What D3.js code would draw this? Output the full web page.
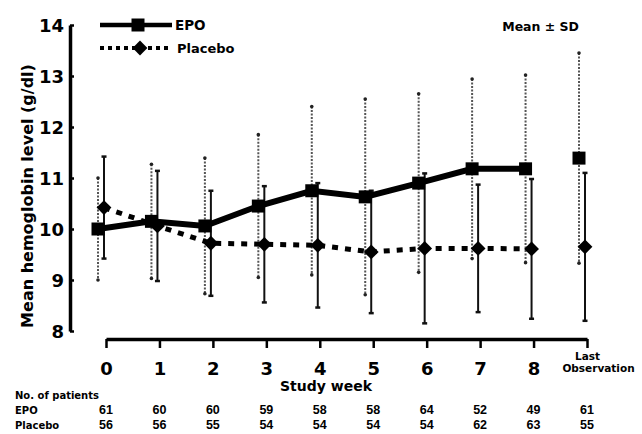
<!DOCTYPE html>
<html>
<head>
<meta charset="utf-8">
<script src="https://cdn.jsdelivr.net/npm/d3@7"></script>
<style>
  body { margin: 0; background: #fff; }
  svg { display: block; }
  text { fill: #000; }
</style>
</head>
<body>
<svg id="chart"></svg>
<script>
// study weeks on the x axis
const weeks = ["0", "1", "2", "3", "4", "5", "6", "7", "8", "Last"];

// mean and SD (g/dl)
const epoMean = [10.0, 10.15, 10.06, 10.45, 10.75, 10.63, 10.9, 11.18, 11.18, 11.39];
const epoSD = [1.0, 1.12, 1.33, 1.4, 1.65, 1.92, 1.75, 1.76, 1.84, 2.06];
const placeboMean = [10.42, 10.06, 9.72, 9.7, 9.68, 9.55, 9.62, 9.62, 9.61, 9.65];
const placeboSD = [1.0, 1.08, 1.03, 1.14, 1.22, 1.2, 1.47, 1.25, 1.37, 1.45];

// patients at each visit
const epoN = ["61", "60", "60", "59", "58", "58", "64", "52", "49", "61"];
const placeboN = ["56", "56", "55", "54", "54", "54", "54", "62", "63", "55"];

const yTicks = [8, 9, 10, 11, 12, 13, 14];

const w = 642;
const h = 434;
const bold = "'DejaVu Sans', sans-serif";
const arial = "'Liberation Sans', Arial, sans-serif";

const svg = d3.select("#chart").attr("width", w).attr("height", h);

const x = d3.scalePoint().domain(weeks).range([106, 587]);
const y = d3.scaleLinear().domain([8, 14]).range([331, 25]);

const epoDx = -8;
const plDx = -2;

const epo = weeks.map((wk, i) => ({wk: wk, m: epoMean[i], sd: epoSD[i]}));
const placebo = weeks.map((wk, i) => ({wk: wk, m: placeboMean[i], sd: placeboSD[i]}));

// y axis
const yAxis = svg.append("g").attr("transform", "translate(70,0)")
  .call(d3.axisLeft(y).tickValues(yTicks).tickFormat(d3.format("d"))
    .tickSize(-4).tickSizeOuter(0).tickPadding(6));
yAxis.select(".domain").attr("stroke", "#000").attr("stroke-width", 3.5);
yAxis.selectAll(".tick line").attr("stroke", "#000").attr("stroke-width", 2.5);
yAxis.selectAll(".tick text")
  .attr("font-family", bold).attr("font-weight", "bold").attr("font-size", 18)
  .attr("dy", "0.36em").attr("fill", "#000");

// x axis
const xAxis = svg.append("g").attr("transform", "translate(0,339)")
  .call(d3.axisBottom(x).tickSize(9).tickSizeOuter(0).tickPadding(14));
xAxis.select(".domain").attr("stroke", "#000").attr("stroke-width", 3.5);
xAxis.selectAll(".tick line").attr("stroke", "#000").attr("stroke-width", 2.5);
xAxis.selectAll(".tick text")
  .attr("font-family", bold).attr("font-weight", "bold").attr("font-size", 18)
  .attr("dy", "0.71em").attr("fill", "#000");

// "Last Observation" in two small lines
const lastTick = xAxis.selectAll(".tick").filter(d => d === "Last");
lastTick.select("text").remove();
const lastText = lastTick.append("text")
  .attr("font-family", bold).attr("font-weight", "bold").attr("font-size", 10.5)
  .attr("text-anchor", "middle").attr("fill", "#000");
lastText.append("tspan").attr("x", 0).attr("y", 21).text("Last");
lastText.append("tspan").attr("x", 11).attr("y", 33).text("Observation");

// axis titles
svg.append("text")
  .attr("transform", "translate(33,196) rotate(-90)")
  .attr("text-anchor", "middle")
  .attr("font-family", bold).attr("font-weight", "bold").attr("font-size", 16)
  .text("Mean hemoglobin level (g/dl)");

svg.append("text")
  .attr("x", 326).attr("y", 391)
  .attr("text-anchor", "middle")
  .attr("font-family", bold).attr("font-weight", "bold").attr("font-size", 14)
  .text("Study week");

// error bars - EPO dotted, placebo solid
const epoBars = svg.append("g");
epoBars.selectAll("line").data(epo).enter().append("line")
  .attr("x1", d => x(d.wk) + epoDx).attr("x2", d => x(d.wk) + epoDx)
  .attr("y1", d => y(d.m + d.sd)).attr("y2", d => y(d.m - d.sd))
  .attr("stroke", "#555").attr("stroke-width", 2).attr("stroke-dasharray", "2,1.5");
epoBars.selectAll("circle").data(epo.flatMap(d => [{wk: d.wk, v: d.m + d.sd}, {wk: d.wk, v: d.m - d.sd}]))
  .enter().append("circle")
  .attr("cx", d => x(d.wk) + epoDx).attr("cy", d => y(d.v)).attr("r", 1.8).attr("fill", "#222");

const plBars = svg.append("g");
plBars.selectAll("line.bar").data(placebo).enter().append("line").attr("class", "bar")
  .attr("x1", d => x(d.wk) + plDx).attr("x2", d => x(d.wk) + plDx)
  .attr("y1", d => y(d.m + d.sd)).attr("y2", d => y(d.m - d.sd))
  .attr("stroke", "#111").attr("stroke-width", 2);
plBars.selectAll("line.cap").data(placebo.flatMap(d => [{wk: d.wk, v: d.m + d.sd}, {wk: d.wk, v: d.m - d.sd}]))
  .enter().append("line").attr("class", "cap")
  .attr("x1", d => x(d.wk) + plDx - 2.5).attr("x2", d => x(d.wk) + plDx + 2.5)
  .attr("y1", d => y(d.v)).attr("y2", d => y(d.v))
  .attr("stroke", "#111").attr("stroke-width", 2.5);

// mean lines
const epoLine = d3.line().x(d => x(d.wk) + epoDx).y(d => y(d.m));
const plLine = d3.line().x(d => x(d.wk) + plDx).y(d => y(d.m));

svg.append("path").datum(epo.slice(0, 9)).attr("d", epoLine)
  .attr("fill", "none").attr("stroke", "#000").attr("stroke-width", 6);
svg.append("path").datum(placebo.slice(0, 9)).attr("d", plLine)
  .attr("fill", "none").attr("stroke", "#000").attr("stroke-width", 5)
  .attr("stroke-dasharray", "6,7");

// markers
const square = d3.symbol().type(d3.symbolSquare).size(169);
const diamond = d3.symbol().type(d3.symbolSquare).size(110);

svg.append("g").selectAll("path").data(epo).enter().append("path")
  .attr("d", square)
  .attr("transform", d => "translate(" + (x(d.wk) + epoDx) + "," + y(d.m) + ")")
  .attr("fill", "#000");
svg.append("g").selectAll("path").data(placebo).enter().append("path")
  .attr("d", diamond)
  .attr("transform", d => "translate(" + (x(d.wk) + plDx) + "," + y(d.m) + ") rotate(45)")
  .attr("fill", "#000");

// legend
const legend = svg.append("g");
legend.append("line").attr("x1", 100).attr("x2", 172).attr("y1", 25).attr("y2", 25)
  .attr("stroke", "#000").attr("stroke-width", 4.5);
legend.append("path").attr("d", square).attr("transform", "translate(138,25)");
legend.append("text").attr("x", 175).attr("y", 30)
  .attr("font-family", bold).attr("font-weight", "bold").attr("font-size", 13.5).text("EPO");
legend.append("line").attr("x1", 100).attr("x2", 172).attr("y1", 48).attr("y2", 48)
  .attr("stroke", "#000").attr("stroke-width", 4).attr("stroke-dasharray", "4,4");
legend.append("path").attr("d", diamond).attr("transform", "translate(140,48) rotate(45)");
legend.append("text").attr("x", 177).attr("y", 53)
  .attr("font-family", bold).attr("font-weight", "bold").attr("font-size", 13).text("Placebo");

svg.append("text").attr("x", 579).attr("y", 31).attr("text-anchor", "end")
  .attr("font-family", bold).attr("font-weight", "bold").attr("font-size", 12.5)
  .text("Mean \u00b1 SD");

// patient counts table
const table = svg.append("g").attr("font-weight", "bold");
table.append("text").attr("x", 15).attr("y", 399)
  .attr("font-family", bold).attr("font-size", 10).text("No. of patients");
table.append("text").attr("x", 15).attr("y", 414)
  .attr("font-family", bold).attr("font-size", 10).text("EPO");
table.append("text").attr("x", 15).attr("y", 429)
  .attr("font-family", bold).attr("font-size", 10).text("Placebo");

table.selectAll("text.epo").data(epoN).enter().append("text").attr("class", "epo")
  .attr("x", (d, i) => x(weeks[i])).attr("y", 414)
  .attr("text-anchor", "middle").attr("font-family", arial).attr("font-size", 12.5)
  .text(d => d);
table.selectAll("text.pl").data(placeboN).enter().append("text").attr("class", "pl")
  .attr("x", (d, i) => x(weeks[i])).attr("y", 429)
  .attr("text-anchor", "middle").attr("font-family", arial).attr("font-size", 12.5)
  .text(d => d);
</script>
</body>
</html>
